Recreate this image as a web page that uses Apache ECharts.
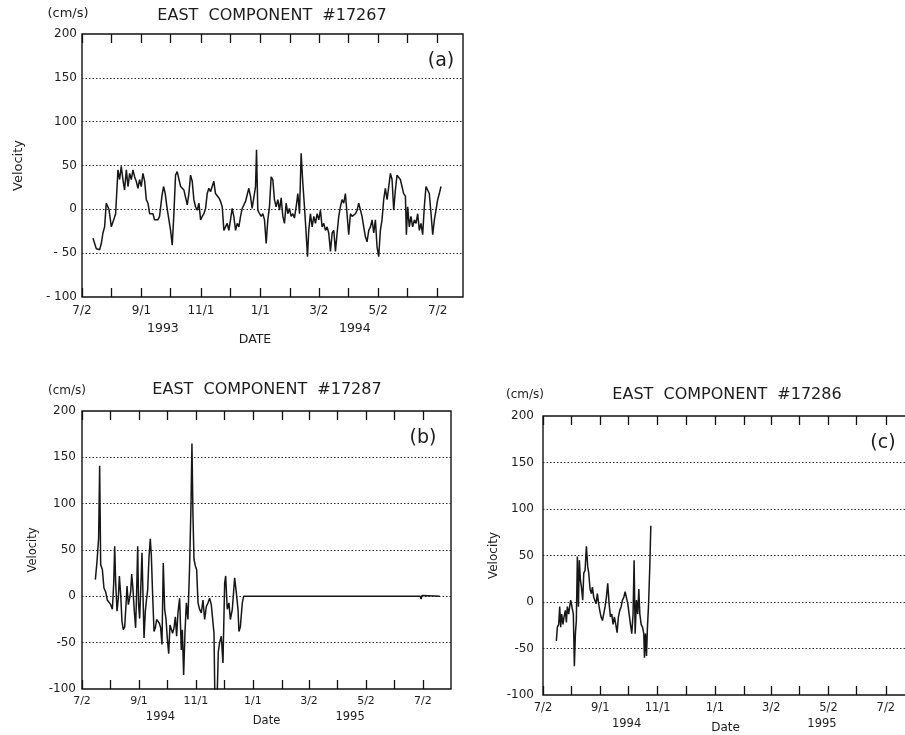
<!DOCTYPE html>
<html><head><meta charset="utf-8">
<script src="https://cdn.jsdelivr.net/npm/echarts@6/dist/echarts.min.js"></script>
<style>html,body{margin:0;padding:0;background:#fff}#c{width:905px;height:735px}</style>
</head><body><div id="c"></div>
<script>
// x values are days after July 2 of the record's first year
const monthTickDays = [0,30,61,91,122,152,183,214,243,273,304,334,365];
const monthLabelDays = [0,61,122,183,243,304,365];
const monthLabels = ['7/2','9/1','11/1','1/1','3/2','5/2','7/2'];
const yTickLabelsA = {'-100':'- 100','-50':'- 50'};

const aYearDays = [83,280];
const aYears = ['1993','1994'];
const bYearDays = [84,287];
const bYears = ['1994','1995'];
const cYearDays = [89,297];
const cYears = ['1994','1995'];

// Panel (a): #17267, Jul 1993 - Jul 1994
const aDays = [11.3,13.0,14.7,16.4,18.1,19.8,21.5,23.2,24.9,27.7,30.1,32.5,34.5,36.9,38.6,40.3,42.0,43.7,45.5,47.2,48.9,50.6,52.3,54.0,55.7,57.4,59.1,60.8,62.5,64.3,66.0,67.7,69.4,71.1,72.8,74.5,76.2,77.9,79.6,82.0,83.7,85.4,87.1,89.2,90.9,92.6,94.3,96.0,97.7,99.5,101.2,102.9,104.6,106.3,108.0,109.7,111.4,113.1,114.8,116.5,118.2,120.0,121.7,123.4,125.1,126.8,128.5,130.2,131.9,133.6,135.3,137.0,138.8,140.5,142.2,143.9,145.6,147.3,149.0,150.7,152.4,154.1,155.8,157.6,159.3,161.0,162.7,164.4,166.1,167.8,169.5,171.2,172.9,174.6,176.3,178.1,179.1,180.4,182.2,183.9,185.6,187.3,189.0,190.7,192.4,194.1,195.8,197.5,199.2,201.0,202.7,204.4,206.1,207.8,209.5,211.2,212.9,214.6,216.3,218.0,219.8,221.5,223.2,224.9,226.6,228.3,230.0,231.4,232.7,234.4,236.2,237.9,239.6,241.3,243.0,244.7,246.4,248.1,249.8,251.5,253.2,255.0,256.7,258.4,260.1,261.8,263.5,265.2,266.9,268.6,270.3,272.0,273.7,275.5,277.2,278.9,280.6,282.3,284.0,285.7,287.4,289.1,290.8,292.5,294.3,296.0,297.7,299.4,301.1,302.8,304.5,306.2,307.9,309.6,311.3,313.1,314.8,316.5,318.2,319.9,321.6,323.3,325.0,326.7,328.4,330.1,331.9,332.9,334.2,335.9,337.6,339.3,341.1,342.8,344.5,346.2,347.9,349.6,351.3,353.0,354.7,356.4,358.2,359.9,361.6,363.3,365.0,366.7,368.4];
const aVel = [-33,-35,-45,-47,-46,-39,-27,-20,7,0,-20,-12,-5,45,34,49,34,22,45,26,41,34,45,37,32,24,34,26,41,32,11,7,-5,-6,-5,-12,-14,-12,-8,15,26,18,3,-12,-24,-41,-5,39,43,41,26,26,22,22,5,18,39,32,11,3,-1,7,-12,-8,-5,1,18,24,20,26,32,18,16,13,9,3,-24,-26,-16,-24,-12,1,-8,-24,-16,-20,-8,1,3,9,11,24,15,1,-1,26,68,-1,-5,-8,-5,-12,-39,-12,3,37,34,11,3,11,-1,13,-8,-16,7,-5,1,-8,-5,-10,3,18,-5,64,30,3,-27,-54,-24,-5,-20,-8,-16,-5,-12,-1,-20,-16,-24,-20,-27,-48,-27,-24,-48,-27,-8,3,11,7,18,-5,-29,-5,-8,-10,-5,-1,7,5,-8,-20,-31,-37,-24,-20,-12,-27,-12,-43,-54,-24,-12,11,24,11,26,41,34,-1,22,39,41,34,26,18,15,-29,3,-20,-8,-20,-12,-16,-5,-24,-16,-29,3,26,26,18,-5,-29,-12,-1,11,18,26];

// Panel (b): #17287, Jul 1994 - Jul 1995
const bDays = [14.3,16.1,17.8,18.9,20.0,21.8,23.5,25.3,27.1,28.9,30.7,32.5,33.9,35.0,36.0,37.5,38.9,40.0,41.4,42.8,44.2,45.7,47.1,48.2,49.6,51.0,52.1,53.2,54.6,56.0,57.4,58.5,59.6,60.6,61.7,62.8,64.2,65.3,66.4,67.8,68.9,70.3,71.7,73.1,74.2,75.6,77.1,78.5,79.9,81.3,82.8,84.2,85.6,87.0,88.5,89.9,91.3,92.8,94.2,95.6,97.0,98.5,99.9,101.3,102.7,104.5,106.3,107.4,108.8,110.2,111.7,113.4,115.2,116.7,117.7,118.8,119.9,121.3,122.7,124.2,125.9,127.7,129.5,131.3,133.1,134.9,136.6,138.4,140.2,141.3,142.3,144.5,145.9,147.3,149.1,150.9,152.7,153.8,155.5,157.3,158.8,160.9,163.4,165.2,167.0,168.0,169.5,171.6,173.0,
  190,191,230,231,262,263,300,301,318,319,333,334,335,336,350,351,356,357,362,363,364,383];
const bVel = [18,38,63,141,34,29,9,5,-4,-5,-9,-14,13,54,16,-16,-2,22,2,-27,-36,-33,-9,11,-9,-2,5,24,7,-16,-34,5,54,-9,-24,5,47,49,-45,-16,-5,7,42,62,45,2,-38,-34,-25,-27,-29,-34,-52,36,-14,-24,-45,-62,-31,-29,-40,-34,-22,-43,-18,-2,-58,-36,-85,-40,-7,-25,33,100,165,87,40,33,29,-7,-14,-18,-4,-25,-11,-7,-2,-9,-11,-40,-115,-115,-60,-50,-43,-72,14,22,-14,-7,-25,-14,20,4,-14,-38,-33,-7,0,
  0,1,0,-1,0,1,0,1,0,-1,0,2,-2,0,0,1,0,-2,0,-3,1,0];

// Panel (c): #17286, Jul 1994 - Jul 1995
const cDays = [14.2,15.3,16.7,17.8,18.8,19.9,21.3,22.4,23.8,24.9,25.9,27.4,28.4,29.5,30.9,32.3,33.4,34.5,35.5,36.6,37.7,38.7,39.8,40.9,42.3,43.4,44.8,46.2,47.6,48.7,50.1,51.5,52.6,54.0,55.1,56.5,57.9,59.0,60.4,61.8,63.3,64.7,66.1,67.5,68.9,70.4,71.8,73.2,74.6,76.0,77.5,78.9,80.3,81.7,83.2,84.6,86.0,87.4,88.8,90.3,91.7,93.1,94.5,95.9,97.0,98.1,99.5,100.9,102.0,103.1,104.5,105.9,107.3,108.0,109.1,110.2,111.2,112.3,113.7,114.8];
const cVel = [-42,-27,-24,-5,-27,-13,-24,-16,-9,-22,-5,-13,-5,2,0,-13,-69,-34,-20,49,-5,45,24,16,2,31,34,60,38,31,14,9,16,5,4,-2,9,0,-9,-16,-20,-20,-5,5,20,-2,-16,-13,-24,-16,-24,-33,-16,-9,-5,2,5,11,5,-2,-13,-24,-34,-13,45,-34,2,-13,14,-13,-24,-27,-34,-60,-34,-58,-27,-5,38,82];

const FONT = 'DejaVu Sans';
const INK = '#1c1c1c';

const panels = [
  { grid:{left:82, top:34, width:381, height:263}, xMax:391, days:aDays, vel:aVel,
    yearDays:aYearDays, years:aYears, dateName:'DATE', dateGap:36, datePad:[0,35,0,0],
    fs:12, yfs:12, yMargin:5, mMargin:8, yrMargin:25, yrFs:12.5, velFs:13, velGap:57, yFmt:true },
  { grid:{left:82, top:411, width:369, height:278}, xMax:395, days:bDays, vel:bVel,
    yearDays:bYearDays, years:bYears, dateName:'Date', dateGap:26, datePad:[0,0,0,0],
    fs:11, yfs:12, yMargin:6, mMargin:7, yrMargin:22, yrFs:11.5, velFs:11.5, velGap:43, yFmt:false },
  { grid:{left:543, top:416, width:371, height:279}, xMax:395, days:cDays, vel:cVel,
    yearDays:cYearDays, years:cYears, dateName:'Date', dateGap:27, datePad:[0,6,0,0],
    fs:11.5, yfs:12, yMargin:9, mMargin:7, yrMargin:23, yrFs:11.5, velFs:12, velGap:43, yFmt:false }
];

const grids = [], xAxes = [], yAxes = [], series = [];
panels.forEach((p, i) => {
  grids.push(Object.assign({show:true, borderColor:'#111', borderWidth:1.4, backgroundColor:'transparent',
    containLabel:false, outerBoundsMode:'none'}, p.grid));
  const base = {type:'value', gridIndex:i, min:0, max:p.xMax, splitLine:{show:false},
    axisLine:{show:false, onZero:false}};
  xAxes.push(Object.assign({}, base, {position:'bottom',
    axisTick:{show:true, inside:true, length:9, customValues:monthTickDays, lineStyle:{color:'#111', width:1.3}},
    axisLabel:{show:true, customValues:monthLabelDays, margin:p.mMargin, fontFamily:FONT, fontSize:p.fs, color:INK,
      hideOverlap:false, formatter:v => monthLabels[monthLabelDays.indexOf(v)] || ''}
  }));
  xAxes.push(Object.assign({}, base, {position:'top',
    axisTick:{show:true, inside:true, length:9, customValues:monthTickDays, lineStyle:{color:'#111', width:1.3}},
    axisLabel:{show:false}
  }));
  xAxes.push(Object.assign({}, base, {position:'bottom',
    axisTick:{show:false},
    axisLabel:{show:true, customValues:p.yearDays, margin:p.yrMargin, fontFamily:FONT, fontSize:p.yrFs, color:INK,
      hideOverlap:false, formatter:v => p.years[p.yearDays.indexOf(v)] || ''},
    name:p.dateName, nameLocation:'middle', nameGap:p.dateGap, nameMoveOverlap:false,
    nameTextStyle:{fontFamily:FONT, fontSize:p.fs + 0.5, color:INK, padding:p.datePad}
  }));
  yAxes.push({type:'value', gridIndex:i, min:-100, max:200, interval:50,
    axisLine:{show:false, onZero:false}, axisTick:{show:false},
    axisLabel:{fontFamily:FONT, fontSize:p.yfs, color:INK, margin:p.yMargin,
      formatter:v => (p.yFmt && yTickLabelsA[String(v)]) ? yTickLabelsA[String(v)] : String(v)},
    splitLine:{show:true, showMinLine:false, showMaxLine:false,
      lineStyle:{color:'#2a2a2a', width:1.1, type:[1.5,2]}},
    name:'Velocity', nameLocation:'middle', nameGap:p.velGap, nameRotate:90, nameMoveOverlap:false,
    nameTextStyle:{fontFamily:FONT, fontSize:p.velFs, color:INK}
  });
  const n = Math.min(p.days.length, p.vel.length);
  const data = [];
  for (let k = 0; k < n; k++) data.push([p.days[k], p.vel[k]]);
  series.push({type:'line', xAxisIndex:i*3, yAxisIndex:i, data:data, showSymbol:false, symbol:'none',
    clip:true, lineStyle:{color:'#161616', width:1.5}, silent:true});
});

function txt(x, y, s, size) {
  return {type:'text', x:x, y:y, silent:true,
    style:{text:s, fontFamily:FONT, fontSize:size, fill:INK, align:'center', verticalAlign:'middle',
      textAlign:'center', textVerticalAlign:'middle'}};
}
const graphics = [
  txt(68, 14, '(cm/s)', 13), txt(272, 15.5, 'EAST  COMPONENT  #17267', 16), txt(441, 61, '(a)', 19),
  txt(67, 391, '(cm/s)', 12), txt(267, 390, 'EAST  COMPONENT  #17287', 16), txt(423, 438, '(b)', 19),
  txt(525, 395, '(cm/s)', 12), txt(727, 395, 'EAST  COMPONENT  #17286', 16), txt(883, 443, '(c)', 19)
];

const chart = echarts.init(document.getElementById('c'), null, {renderer:'canvas'});
chart.setOption({
  animation:false,
  backgroundColor:'#fff',
  grid:grids, xAxis:xAxes, yAxis:yAxes, series:series,
  graphic:{elements:graphics}
});
</script>
</body></html>
